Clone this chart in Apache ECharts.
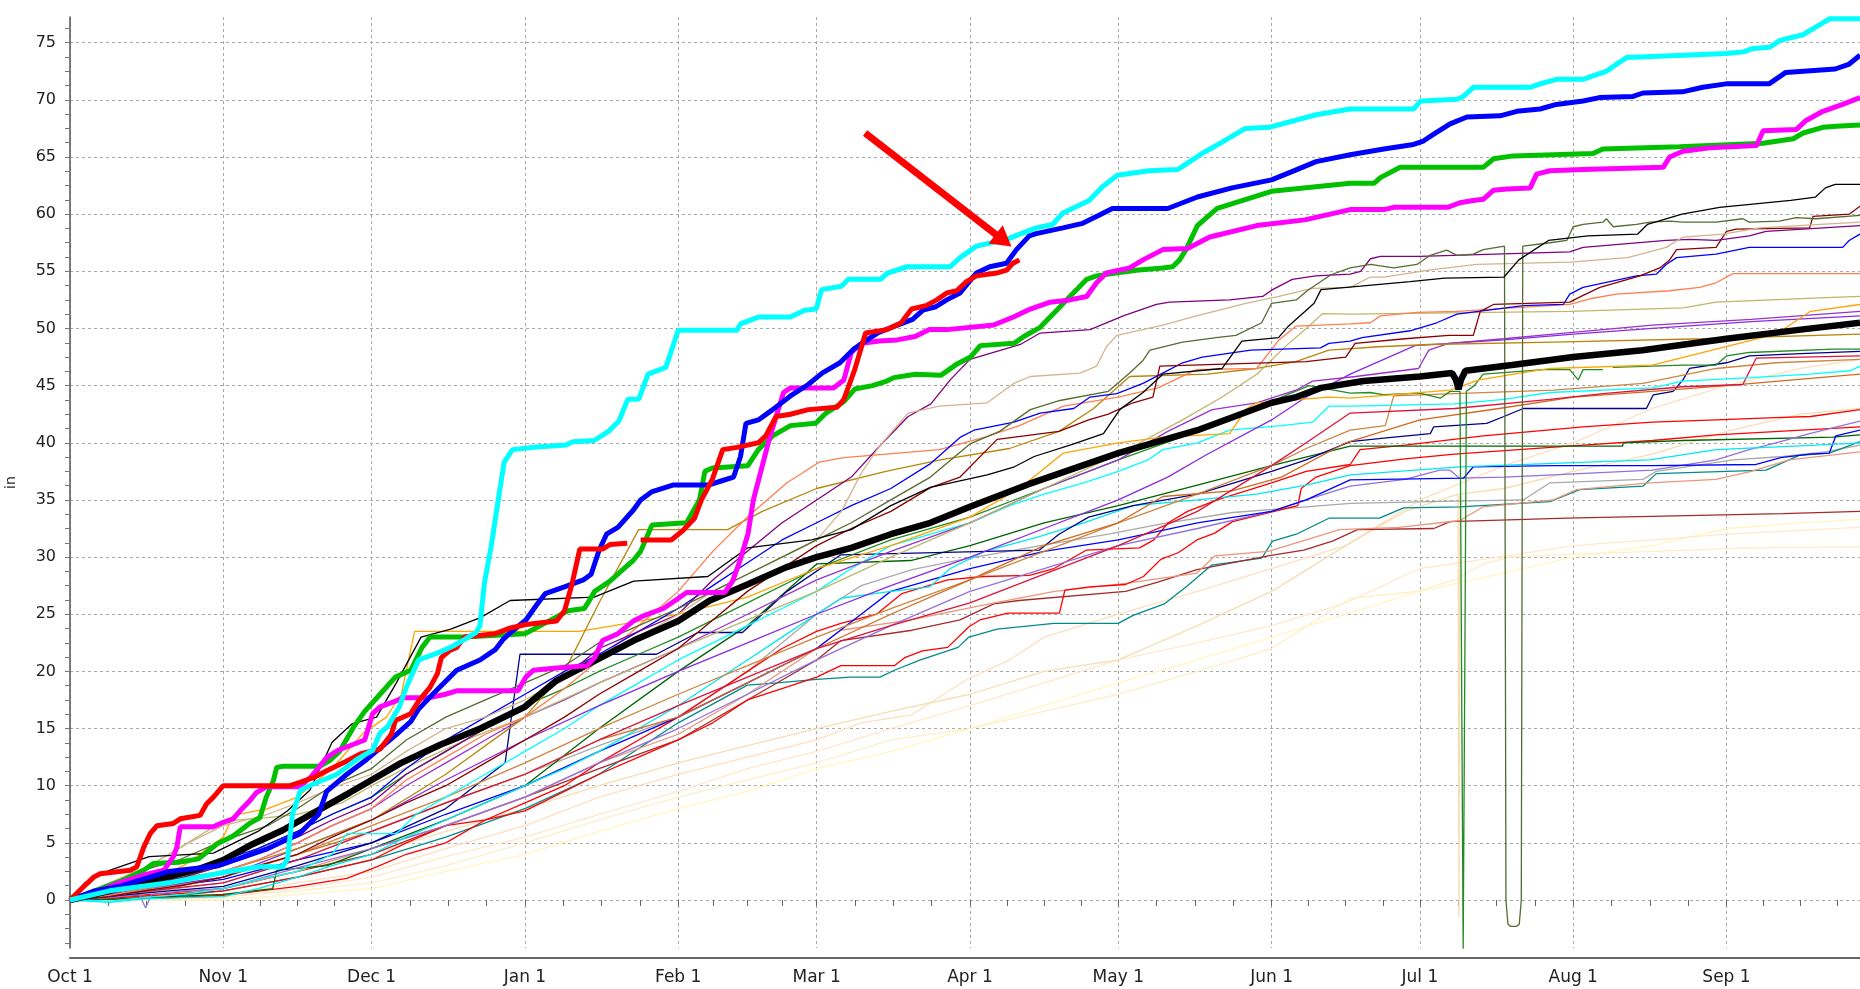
<!DOCTYPE html>
<html><head><meta charset="utf-8">
<script src="https://cdn.jsdelivr.net/npm/echarts@6/dist/echarts.min.js"></script>
<style>html,body{margin:0;padding:0;background:#fff}#c{width:1860px;height:989px}</style>
</head><body><div id="c"></div>
<script>
// ---- axis categories / tick labels ----
const monthLabels = ['Oct 1','Nov 1','Dec 1','Jan 1','Feb 1','Mar 1','Apr 1','May 1','Jun 1','Jul 1','Aug 1','Sep 1'];
const monthStartDays = [0,31,61,92,123,151,182,212,243,273,304,335];
const monthLengths = [31,30,31,31,28,31,30,31,30,31,31,30];
const yLabelValues = [0,5,10,15,20,25,30,35,40,45,50,55,60,65,70,75];

// ---- highlighted series ([day of water year, inches]) ----
const cyanThick = [[0,0],[8,0.8],[20,1.5],[31,2.4],[38,2.9],[43,2.9],[44,3.6],[45,7.5],[46.6,9.6],[49,10.1],[54,11],[58,12.3],[61.2,13.1],[62.7,14.6],[64.3,15.2],[66.6,16.9],[68.1,18.7],[70.5,21],[74.3,21.6],[77.4,22.2],[79.8,22.8],[82.1,23.4],[82.9,24],[83.8,27.7],[85.2,31],[86.6,35],[87.8,38.3],[89.5,39.4],[93.8,39.6],[100.3,39.8],[101.7,40.1],[106,40.2],[108.9,41],[111,41.9],[112.8,43.8],[115,43.8],[116.9,46],[120.5,46.6],[123,49.85],[134.9,49.85],[135.6,50.4],[139.2,51],[145.7,51],[148.6,51.6],[150.9,51.7],[152,53.4],[156,53.7],[157.4,54.3],[163.9,54.3],[165.3,54.85],[169.3,55.4],[178,55.4],[180,56.2],[183.3,57.2],[189.4,57.8],[195.4,58.8],[198.7,59.1],[200.8,60.1],[206.1,61.2],[208.8,62.4],[211.8,63.4],[218.2,63.8],[224,63.9],[229.3,65.4],[233,66.3],[237.7,67.5],[242.5,67.6],[252,68.7],[258.9,69.2],[271.7,69.2],[273.1,69.9],[280.5,70.05],[281.8,70.3],[283.8,71.1],[295.3,71.1],[297.3,71.4],[300.6,71.8],[306,71.8],[308.7,72.2],[310.7,72.5],[312.7,73.1],[314.8,73.7],[326.3,73.9],[335,74.05],[338.4,74.2],[340.4,74.5],[343.7,74.6],[345.8,75.2],[350.5,75.7],[353.2,76.4],[355.9,77.1],[362,77.1]];
const blueThick = [[0,0],[5,0.8],[10,1.2],[20,2.5],[30,3],[40,4.5],[46.4,5.8],[50.3,7.5],[51.9,9.5],[56,11],[60,12.3],[65.8,14.4],[68.9,15.6],[70.5,16.7],[73.6,18.1],[78.2,20.1],[79.8,20.4],[82.9,21],[86,21.9],[87.6,22.8],[89.1,23.4],[92.2,24.5],[94.5,25.9],[96.1,26.8],[100,27.4],[103.8,28],[105.4,28.5],[107,30.6],[108.5,32],[110.8,32.6],[113.9,34.1],[115.4,35],[117.6,35.7],[121.9,36.3],[129.1,36.3],[132,36.7],[134.2,37],[135.6,38.8],[136.7,41.7],[139.2,42],[142.1,42.9],[145.7,44.1],[149.3,45.1],[152.1,46.1],[155.7,47],[158.5,48.2],[161.2,49],[163.3,49.6],[166.8,50.2],[170.4,50.8],[172.5,51.6],[175.1,51.9],[177.3,52.5],[180,53.1],[183.3,54.85],[186,55.4],[189.4,55.7],[191.4,56.9],[194,58.1],[195.4,58.3],[200.8,58.8],[204.8,59.2],[208.1,59.9],[210.8,60.5],[222,60.5],[228,61.5],[235,62.3],[243,63],[247,63.7],[252,64.6],[258.9,65.2],[265.7,65.7],[271.7,66.1],[273.7,66.4],[275.8,67],[279.1,67.9],[282.5,68.5],[289.2,68.6],[292.6,69],[297.3,69.2],[300.6,69.6],[306,69.9],[309.3,70.2],[316.1,70.3],[318.1,70.6],[326.1,70.7],[330.2,71.1],[334.9,71.4],[343.6,71.4],[347,72.4],[357,72.7],[359.7,73.1],[362,73.9]];
const redThick = [[0,0],[2.1,0.9],[4.8,2.0],[6.1,2.3],[12.2,2.6],[13.5,2.9],[14.9,4.6],[16.2,5.8],[17.6,6.5],[20.9,6.7],[22.3,7.1],[26.3,7.4],[27.6,8.4],[29,9.0],[31,10],[44.5,10],[46.5,10.3],[49.2,10.7],[51.9,11.3],[55.7,12.1],[58.8,12.8],[62.7,13.2],[65,14.5],[65.8,15.7],[68.9,16.3],[70.5,17.4],[72.8,18.6],[74.3,19.8],[75.1,21.2],[76.7,21.8],[78.2,22.1],[79.8,23],[86,23.3],[89.1,23.8],[92.2,24.1],[98.4,24.4],[100,25.3],[101.5,27.6],[103.1,30.7],[107.7,30.7],[109.2,31.1],[112.7,31.2],[113.8,'-'],[115.4,31.5],[121.6,31.5],[123.9,32.3],[126.3,33.4],[127.7,35],[129.9,36.8],[132,39.4],[134.9,39.6],[139.2,40],[140.7,40.6],[142.8,42.3],[145.7,42.5],[149.3,42.9],[155.1,43.1],[156.5,43.8],[158.7,46.4],[160.9,49.6],[165.2,49.9],[168.1,50.5],[170.2,51.7],[173.1,52],[175.3,52.5],[177.3,53.1],[179.3,53.3],[181.3,54.1],[183.3,54.6],[187.4,54.85],[189.4,55.1],[190.7,55.7],[192,56]];
const magentaThick = [[0,0],[5,0.6],[10,1.5],[15,2.2],[19,2.6],[20.9,3.8],[21.6,4.6],[22.3,6.4],[29,6.4],[31,6.8],[33,7.1],[34.4,7.8],[36.4,8.7],[37.7,9.4],[39.7,9.9],[46.4,9.9],[48.8,10.8],[52,12.5],[54.2,13.1],[59.6,14],[61.2,16.3],[62.7,16.9],[65.8,17.4],[67.4,17.7],[72.8,17.7],[75.9,18],[78.2,18.3],[90.6,18.3],[92.2,19.5],[93.7,20.1],[98.4,20.3],[104.6,20.5],[106.1,21.2],[107.7,22.7],[110.8,23.3],[113.9,24.4],[116.2,24.9],[120,25.5],[122.4,26.2],[124.7,26.9],[132.4,26.9],[134,27.9],[135.5,29.7],[137.1,32],[138.2,35],[141.4,40.3],[144.3,44.4],[145.7,44.8],[154.4,44.8],[156.5,45.5],[158,47.9],[160.1,48.7],[163.7,48.9],[167.3,49],[170.9,49.3],[173.8,49.9],[177.4,49.9],[186.8,50.3],[190.8,51],[194.2,51.7],[198.2,52.3],[202.2,52.5],[205.6,52.8],[207.6,54],[209.6,54.85],[214.3,55.3],[217,56],[221,56.9],[226,57],[230.5,58],[240,59],[249.7,59.5],[258.9,60.4],[265.7,60.4],[267.7,60.6],[278.6,60.6],[281.1,61],[283.8,61.2],[285.8,61.3],[287.9,62.1],[290.6,62.2],[295.3,62.3],[296.6,63.5],[299.3,63.8],[306,63.9],[322.2,64.1],[323.5,65],[326.2,65.5],[331.6,65.8],[341.1,66],[342.4,67.3],[349.1,67.4],[351.1,68.2],[354.5,69],[358.5,69.6],[362,70.2]];
const greenThick = [[0,0],[5,0.8],[10,1.6],[14.9,2.6],[16.9,3.2],[22,3.3],[26,3.6],[29.7,4.9],[33,5.6],[36.3,6.7],[38.4,7.2],[39.7,9],[41.1,10.4],[41.8,11.6],[43.1,11.7],[50.5,11.7],[52.5,12.2],[54.5,13],[57.3,15.1],[59.6,16.5],[62.7,18],[65.8,19.5],[68.9,20.1],[71.2,22.1],[72.8,23],[79.8,23],[92,23.3],[96,24.2],[100.7,25.3],[104,25.5],[104.6,25.9],[106.1,27],[109.2,27.9],[112.3,29.1],[113.9,29.7],[115.4,30.5],[117.7,32.8],[124.7,33],[127.3,35],[128.4,37.5],[129.9,37.8],[137.1,38],[139.2,39.4],[142.1,40.6],[145.7,41.5],[150.8,41.7],[152.9,42.6],[156.5,43.6],[158.7,44.7],[162.3,45],[165.2,45.4],[166.6,45.7],[171,46],[176.1,45.9],[179.4,46.9],[182.1,47.5],[184.1,48.5],[190.9,48.7],[192.9,49.3],[196.2,50.1],[198.9,51.3],[200.9,52.2],[203.6,53.4],[205.6,54.3],[207.6,54.6],[211.6,54.85],[215.6,55.1],[221,55.3],[223,55.4],[224.4,56],[225.7,56.9],[228,59],[232,60.5],[243,62],[258.9,62.7],[263.7,62.7],[265,63.2],[269,64.1],[285.8,64.1],[287.9,64.85],[291.9,65.1],[308,65.3],[310,65.7],[325.5,65.9],[342.4,66.2],[348.5,66.6],[350.5,67.1],[354.5,67.6],[357.2,67.7],[362,67.8]];
const blackAverage = [[0,0],[6,0.6],[12.8,1.3],[19.6,2.0],[26.3,2.75],[31,3.5],[37,4.9],[43,6.1],[50,7.8],[56.6,9.4],[61,10.5],[67,12],[75,13.6],[83,15],[92,16.9],[98.4,19.2],[106,20.9],[114,22.7],[123,24.4],[129.4,26.2],[137,27.6],[144.8,29.1],[151,30],[158,30.8],[166,32],[174,33],[182,34.4],[194,36.4],[212,39.1],[228,41.1],[243,43.5],[248,44],[253,44.8],[261.6,45.4],[273,45.8],[279.5,46.1],[280.3,45.5],[280.8,44.7],[281.3,45.5],[282.2,46.3],[291.6,46.8],[304,47.5],[318,48.1],[335,49.1],[350,49.9],[362,50.5]];

// ---- thin series ----
const thinBlack = [[0,0],[3,1.5],[8,2.6],[16,3.8],[29,4.1],[38,6],[44,7.8],[48.5,9.6],[53,13.8],[57,15.4],[62,16],[66,19],[71,23],[77,23.7],[83,24.7],[89,26.2],[106,26.5],[114,27.9],[129,28.3],[137,30.8],[150,31.5],[158,32.4],[166,34.5],[174,36.1],[185.5,37.2],[191,37.9],[195,38.8],[203,39.9],[209,40.8],[212.3,42.9],[217,44.4],[221,46],[233,46.5],[237,48.9],[244.4,49.2],[246.4,50.2],[251.6,52.2],[253,53.4],[261,53.7],[271,54.1],[278,54.4],[290,54.5],[293,56],[299,57.7],[307,58.1],[317,58.25],[319,59.1],[326,60],[333.6,60.6],[348,61.2],[353,61.5],[355,62.3],[357,62.6],[362,62.6]];
const thinOlive = [[0,0],[6,1],[14,2.5],[22,3.5],[31,5.2],[40,6.5],[46,8],[53,10],[61,11.5],[68,14],[76,16],[84,17.5],[92,19],[100,20.5],[107,22.5],[115,24],[123,25.5],[130,27],[137,28.5],[144,30],[151,31.5],[158,33],[166,35],[174,37],[182,39.9],[188,41],[194.2,42.9],[200.2,43.7],[210,44.5],[214.3,46.1],[217,47.2],[218.4,48.1],[225,48.8],[231.8,49.2],[235.8,49.4],[241,50.5],[243,52.2],[248,52.5],[250.2,53.3],[255,54.7],[258.9,55.3],[263,55.6],[267.7,55.3],[272.4,55.6],[275.1,56.4],[278.4,56.85],[280.5,56.4],[283.8,56.5],[285.8,56.9],[290.1,57.2],[290.4,0],[290.8,-2.1],[291.3,-2.3],[292.6,-2.3],[293.1,-2.1],[293.5,0],[293.8,57.2],[299.3,57.5],[302.7,57.7],[304,58.9],[306,59.1],[310,59.3],[310.7,59.6],[312.1,58.9],[316.8,59.1],[319.5,59.3],[323.5,59.4],[326.2,59.3],[332.9,59.3],[338.3,59.6],[339.6,59.3],[345.7,59.4],[349.1,59.7],[353.1,59.6],[362,59.9]];
const thinTan = [[0,0],[8,1.5],[16,3],[24,5],[31,6.5],[40,7.5],[46,8.5],[53,9.8],[61,11],[68,13],[76,15],[84,16],[92,17.5],[100,19.5],[107,21],[115,23],[123,25],[130,27],[137,28.5],[144,30],[151,31.5],[156,34],[160.1,37.4],[163.7,39.7],[169.5,42.6],[175.8,43.2],[185.5,43.5],[190.9,45.2],[194.2,45.8],[204.3,46.1],[207.6,46.7],[209.6,48.4],[211.7,49.4],[221,50.3],[227.8,51.1],[237.8,52.2],[244.5,52.8],[251.2,53.5],[258.9,53.6],[263,54.5],[265.7,54.5],[274.8,55.1],[284.5,55.6],[303.3,55.8],[315,56.2],[322.8,57.1],[326.2,58],[334.3,58.25],[341.7,58.8],[362,59.3]];
const thinPurple = [[0,0],[8,0.6],[15,1.2],[23,2],[31,3],[38,4.2],[46,5.5],[53,7],[61,8.5],[68,11],[76,13],[84,15],[92,17],[100,19.5],[107,22],[115,23.5],[123,25],[130,28],[137,30.5],[144,33],[151,35],[158,37],[163.7,39.7],[169.5,42.3],[174.1,43.4],[178,45.5],[182,47.3],[192.2,48.6],[196.2,49.6],[206.3,49.9],[213,51.1],[219.7,52.1],[222.4,52.3],[234.5,52.5],[241.2,52.8],[243.2,53.4],[247.2,54.3],[251.9,54.6],[258.9,54.75],[261,55],[263,56.1],[265,56.3],[273,56.3],[303.3,56.7],[306,57.1],[322.8,57.7],[327.5,57.8],[332.9,57.7],[339.6,58.1],[343,58.5],[362,59]];
const thinDarkRed = [[0,0],[8,0.3],[15,0.8],[23,1.3],[31,2],[38,3],[46,4],[53,5.5],[61,7],[68,8.5],[76,10],[84,12],[92,14],[100,16],[107,18],[115,20],[123,22],[130,24.5],[137,27],[144,29],[151,31],[158,32.5],[166,34],[174.1,36.1],[180,37],[187.5,40.3],[193,40.6],[200,41],[206,42],[210,42.5],[215,43.5],[219,44],[220.4,46.7],[235,46.9],[250,47.1],[258,47.5],[259.9,48.7],[270,49.1],[278.8,49.4],[283.8,49.4],[285.2,51.5],[287.9,52.1],[303.3,52.3],[306,52.9],[309.4,53.6],[317.5,54.6],[321.5,55.3],[323.5,56],[324.9,56.9],[332.9,57.1],[335,58.5],[337,58.7],[351.8,58.8],[352.5,59.8],[359.8,60],[362,60.7]];
const thinBlue = [[0,0],[8,0.8],[15,1.5],[23,2.5],[31,3.5],[38,4.5],[46,6],[53,7.5],[61,9],[68,11.5],[76,14],[84,16],[92,18],[100,20],[107,21.5],[115,23.5],[123,25.5],[130,27.5],[137,29.5],[144,31.5],[151,33],[158,34.5],[166,36],[174.1,38.2],[180.1,40.5],[182.8,41.1],[190.9,41.8],[196.2,42.6],[203,43],[206.3,44],[211.7,44.3],[217,45.2],[221,46.1],[225,47],[229,47.5],[238.8,48.1],[252.9,48.3],[254.6,48.7],[258.9,48.9],[261.3,49.2],[271,49.8],[276.4,50.5],[280.5,51.25],[293.9,52],[302,52.1],[303.3,53],[306,53.6],[316.8,54.6],[320.8,54.75],[322.8,55.6],[324.9,56.2],[332.9,56.5],[339.6,57.1],[358.5,57.1],[359.8,57.7],[362,58.25]];
const thinCoral = [[0,0],[8,0.4],[15,1],[23,1.8],[31,2.5],[38,3.5],[46,5],[53,6.5],[61,8],[68,10.5],[76,12.5],[84,14.5],[92,16],[100,18.5],[107,21],[115,24],[123,27],[130,30.5],[137,33.5],[145,36.5],[151.5,38.3],[156.5,38.7],[165,39],[175.8,39.4],[185,40.5],[192,41.5],[200.9,43.2],[212,44],[220,44.8],[227.8,46.4],[240,46.5],[244.5,49],[247.9,50.2],[258.9,50.4],[263,50.5],[265,51.1],[272.4,51.4],[280.5,51.5],[303.3,52.1],[307.4,52.6],[312.7,53],[323.5,53.3],[329.6,53.6],[332.9,54],[336.3,54.8],[362,54.8]];
const thinKhaki = [[0,0],[10,1.5],[20,4],[31,6.9],[40,7.2],[46,7.5],[55,8.5],[61,10],[70,12],[80,14],[92,16],[107,19],[123,22],[137,24.5],[151,27],[166,30],[182,33],[197,36],[212,39],[225,42],[233,44],[240,46],[246,48.5],[250,50],[253.3,51.3],[258.9,51.25],[303.3,51.5],[326.2,51.8],[332.9,52.3],[355.2,52.7],[362,52.8]];
const thinOrange = [[0,0],[8,0.6],[15,1.5],[23,3],[31,5.5],[33,7.4],[40,8],[46,9],[53,11.5],[59.3,14.6],[64,16],[67,18],[69.7,23.5],[103,23.5],[110,24],[123,25],[137,26.5],[151,29],[166,31],[182,33.5],[192,36],[200.9,39.1],[212,40],[221,40.5],[234.5,40.8],[238,43],[240,43.5],[254.6,44],[258.9,43.9],[279.1,44.6],[285,45.5],[292,46],[299.3,46.5],[320,46.8],[332.9,48.2],[345,49.5],[352,51.5],[362,52.1]];
const thinOrchid = [[0,0],[8,0.5],[15,1],[23,1.8],[31,2.5],[38,3.5],[46,5],[53,6.5],[61,8],[68,10],[76,12],[84,14],[92,16],[100,17.5],[107,19],[115,20.5],[123,22],[137,25],[151,28],[166,30.5],[182,33],[197,36],[212,38.5],[222,41],[231,42.9],[240,43.5],[247.9,44.6],[251.3,45.4],[260,45.8],[272.7,46.5],[274.8,48.1],[278.8,48.7],[290,49.1],[300,49.5],[320,50.3],[340,50.8],[362,51.5]];
const thinBlueViolet = [[0,0],[10,0.8],[20,1.3],[31,2],[46,4.5],[61,7],[76,10.5],[92,14],[107,17],[123,20],[137,22.5],[151,25],[166,27.5],[182,30],[197,32.5],[212,35],[222,37],[230,39],[243,42],[250,44],[258.9,46],[265.7,47.3],[272,48.5],[290,49],[304,49.5],[320,50],[340,50.6],[362,51.1]];
const thinForest = [[0,0],[8,0.4],[15,1],[23,2],[31,3],[38,4.5],[46,6],[53,7.5],[61,9],[68,11],[76,13],[84,15],[92,17],[100,18.5],[107,20],[115,21.5],[123,23],[137,26],[151,29],[166,31.5],[182,33.5],[197,36],[212,38.5],[228,41],[240,43],[245,44],[250.6,45],[258.9,44.35],[263,44.4],[265.7,44.2],[273,44.35],[277.1,43.9],[279.1,44.5],[281.1,44.5],[281.75,-4.3],[282.4,44.5],[284,45],[285.8,46],[298,46.4],[303.3,46.4],[305,45.5],[306,46.4],[310,46.4],[311,'-'],[312,46.6],[326.2,46.8],[332.9,46.8],[335,47.6],[339.6,47.9],[356.5,48.2],[362,48.2]];
const thinWheat = [[0,0],[15,0.3],[31,1],[46,2.5],[61,4],[76,6],[92,8],[107,10],[123,12],[137,13.5],[151,15],[166,16.5],[182,18],[197,20],[212,21],[228,24],[243,27],[258,31],[270,34],[280.7,35.5],[280.9,-1.5],[281.1,35.5],[290,36],[304,37.5],[320,39],[335,41],[350,42.5],[362,43]];
const thinCyan = [[0,0],[8,-0.1],[15,0.2],[23,0.5],[31,1],[38,1.8],[46,2.5],[53,4],[56,5.8],[66,5.8],[70,7.5],[76,9],[84,11],[92,13],[100,15],[107,17],[115,19],[123,21],[130,22.5],[137,24],[144,25.5],[151,27],[158,29],[166,31],[174,32],[182,33],[190,34.5],[197,35.5],[205,36.5],[212,37.5],[218,38.5],[221,39.4],[228,40],[234.5,41.1],[245,41.5],[251.3,41.8],[254.6,43.2],[258.9,43.2],[280,43.4],[290,43.8],[299.3,44.4],[320,44.8],[326.2,45.4],[340,45.7],[351.8,46],[360,46.3],[362,46.7]];
const thinCrimson = [[0,0],[10,0.5],[20,1],[31,1.5],[46,3.5],[61,6],[76,8.5],[92,11],[107,14],[123,17],[137,19.5],[151,22],[166,24],[182,26],[197,28.5],[212,31],[228,34],[243,38],[250,40],[258.9,42.6],[280,43],[299.3,43.8],[310,44.3],[326.2,44.9],[338.3,45.1],[341,47.4],[362,47.6]];
const thinPeru = [[0,0],[10,0.6],[20,1.2],[31,2],[46,4],[61,6.5],[76,9],[92,12],[107,15],[123,18],[137,20.5],[151,23],[166,25.5],[182,28],[197,30.5],[212,33],[228,35.5],[243,38],[250,39.5],[258.9,41.1],[266,41.5],[267.7,44.1],[280,44.3],[300,44.6],[318.1,45.2],[325,45.8],[332.9,46.5],[345,47],[362,47.3]];
const thinNavy = [[0,0],[10,0.4],[20,0.8],[31,1.2],[46,3],[61,5],[76,8],[88,12],[91,21.5],[118.6,21.5],[127,23.4],[136,23.4],[145,27],[155.9,30.2],[196,30.6],[200,32],[206,33.5],[215,34.5],[228,35.5],[243,37.5],[250,38.5],[258.9,40.1],[265.7,40.4],[275.1,40.8],[275.8,41.4],[286.5,41.7],[290,42.3],[293.9,43],[318.8,43],[320.2,44.2],[324.2,44.5],[326.2,45.5],[327.5,46.5],[335,47],[339.6,47.6],[350,47.8],[362,48]];
const thinRedA = [[0,0],[10,0.1],[20,0.2],[31,0.4],[46,1.2],[56,1.9],[62,2.9],[68,4],[76,5],[84,7],[92,8.5],[100,10],[107,12],[115,14],[123,16],[130,18],[137,20],[144,22],[151,23.5],[155.9,24.2],[163.1,25],[168.2,26.8],[177.5,28],[184.7,28.3],[194,28.4],[199,29],[205.5,30.6],[216.3,30.8],[219.2,31.5],[222.1,33],[226,34],[232,35],[243,36.5],[250,37.5],[258.9,38.1],[260.9,39.4],[270,39.8],[285.8,40.6],[306,41.4],[320,41.8],[332.9,42],[345,42.2],[352,42.3],[362,42.9]];
const thinRedB = [[0,0],[10,0.2],[20,0.5],[31,0.8],[46,2],[61,3.5],[68,5],[76,6.5],[84,7],[92,7.8],[100,9.5],[107,11],[115,12.5],[123,14],[130,15.5],[137,17.5],[144,18.5],[151,19.5],[155.9,20.5],[166.7,20.5],[168.8,21.2],[172.4,21.8],[177.5,22.1],[181.8,23.9],[184,24.5],[189.7,25.1],[200.1,25.1],[201.2,27.1],[206.2,27.4],[213.5,27.6],[217.1,28.3],[220.6,29.8],[224.2,30.4],[227.9,31.5],[231.5,32.1],[235.1,33.1],[242.5,33.9],[248.3,34.5],[249,36],[252,37],[258.9,38],[270,38.6],[280,39],[306,39.8],[320,40.2],[332.9,40.7],[362,41.4]];
const thinSalmon = [[0,0],[10,0.2],[20,0.5],[31,1],[46,2.5],[61,4.5],[76,6.5],[92,9],[107,12],[123,14.5],[137,18],[151,22],[155.9,23.6],[170,24.5],[184.7,25.8],[188.3,26.1],[199.1,27],[213.5,27.7],[227.9,28.6],[231.5,30.1],[242.3,30.5],[250,31.5],[256.7,32.4],[268.8,32.6],[281.1,33.2],[285.8,34.4],[300,35],[304.7,35.9],[319.5,36.5],[332.9,36.8],[340,37.5],[347.7,38.5],[362,39.2]];
const thinBrown = [[0,0],[10,0.3],[20,0.6],[31,1],[46,2.5],[61,4],[76,6.5],[92,9],[107,11.5],[123,14],[137,17.5],[151,21],[155.9,22.7],[170.3,23.6],[180,24.5],[186.8,25.9],[191.9,26.2],[213.5,27],[220,27.8],[227.9,28.9],[242.3,30.1],[249.5,30.6],[255.3,31.4],[260.4,32.4],[275.8,32.5],[279.1,33.1],[302.7,33.4],[346.4,33.8],[362,34]];
const thinTeal = [[0,0],[10,0.1],[20,0.3],[31,0.8],[46,2],[61,3.5],[76,5.5],[92,8],[107,11],[123,15.5],[137,18.8],[143,19],[151,19.3],[157.9,19.5],[163.8,19.5],[166.7,20.1],[172,21],[179.6,22.1],[181.8,23],[187.5,23.7],[199,24.2],[212,24.2],[215,24.9],[221.3,25.9],[226,27.5],[230.9,29.3],[241,29.9],[243.2,31.4],[248,32],[254.6,33.4],[264.8,33.4],[269.7,34.3],[281.1,34.4],[299.3,34.85],[305.3,35.9],[318.1,36.2],[320.8,37.3],[343,37.6],[349.7,38.9],[355.8,39.1],[362,40.1]];
const thinGray = [[0,0],[10,0.4],[20,0.9],[31,1.5],[46,3.5],[61,6],[76,8.5],[92,11],[107,13.5],[123,16],[137,20],[151,25],[160,27.5],[170.3,28.9],[180.5,29.8],[196.3,31],[210,32],[220.8,32.9],[235.1,33.9],[250,34.4],[258.9,34.7],[280,34.9],[293.9,35],[299.3,36.5],[318.1,36.8],[320.8,37.5],[336.3,38.5],[346.4,38.8],[355,39.2],[362,39.8]];
const thinCyan2 = [[0,0],[8,-0.2],[15,0.1],[23,0.2],[31,0.3],[38,1],[46,2],[53,3],[61,4],[68,5.5],[76,7],[84,8.5],[92,10],[100,11.5],[107,13],[115,15],[123,17],[130,19],[137,21],[144,23],[151,25],[155.9,26.4],[166,27],[173.9,27.4],[178,29],[185,30.5],[196,31.8],[205,33],[215,34.5],[228,35],[240,35.5],[250,36.3],[258.9,37.2],[281.1,37.9],[300,38.2],[319.5,38.5],[332.9,39.4],[353.1,39.8],[362,40]];
const thinBlue2 = [[0,0],[10,0.6],[20,1.2],[31,1.8],[46,3.5],[61,5],[76,7.5],[92,10],[107,13],[123,16],[137,19],[151,22],[160,25],[166,27],[182,29],[197,30.5],[212,31.5],[228,33],[243,34],[250,35],[258.9,36.75],[281.8,36.9],[283.8,37.9],[300,38],[320,38],[341,38.1],[346,38.7],[351.8,39],[355.8,39.1],[357.1,40.6],[362,41.1]];
const thinMedPurple = [[0,0],[8,0.2],[14,0.5],[15.3,-0.7],[16.5,0.5],[23,0.8],[31,1],[46,2.8],[61,4.5],[76,6.5],[92,9],[107,12],[123,15],[137,18],[151,21],[166,24],[182,27],[197,29],[212,31],[228,32.5],[243,34],[250,35],[258.9,36.2],[270,36.8],[277,37.6],[279.1,37.6],[281,36.9],[290,37],[300,37.2],[320,37.6],[332.9,38.5],[339.6,39.4],[345,40],[351.8,40.8],[362,41.9]];
const thinDarkGreen = [[0,0],[10,0.1],[20,0.3],[31,0.5],[41,1],[41.8,2.6],[52,3],[61,4.5],[76,7],[92,10],[107,15],[123,20],[137,24],[151,29.4],[170,29.7],[182,31],[197,33],[212,34.5],[228,36.3],[243,38],[258.9,39.7],[314,39.7],[314.1,40],[326.2,40.2],[356.5,40.5],[362,40.7]];
const thinCornsilk = [[0,0],[15,0],[31,0.3],[46,0.8],[61,1.5],[76,3],[92,5],[107,7],[123,9],[137,10.5],[151,12],[166,14],[182,15],[197,16.5],[212,18],[228,20],[243,22],[258.9,26.4],[272.4,27],[280,28],[285.8,29.4],[291.2,30],[300,30.2],[320,30.5],[340,30.8],[362,30.9]];
const thinBisque = [[0,0],[15,0.1],[31,0.5],[46,1.5],[61,2.5],[76,4.5],[92,6.5],[107,9],[123,11],[137,12.5],[151,14],[160,15.5],[170.3,16.2],[181,19.2],[190,21],[197,23],[212,25],[228,27],[243,29],[258,31],[273,35],[290,38],[304,40],[320,43],[335,45],[350,46.5],[362,47.3]];
const thinPapaya = [[0,0],[15,0],[31,0.2],[46,1],[61,2],[76,3.8],[92,5.5],[107,7.5],[123,9.5],[137,11.5],[151,13],[166,15],[182,17],[197,19],[212,21],[228,22.5],[243,24],[258,26],[273,29],[289,30],[304,31],[320,31.5],[335,32],[362,32.6]];
const thinLemon = [[0,0],[31,0],[46,0.5],[61,1],[76,2.5],[92,4],[107,6],[123,8],[137,9.5],[151,11.5],[166,13],[182,15],[197,17],[212,19],[228,21],[243,23],[258,25],[273,27],[289,28.5],[304,30],[320,31],[335,32.5],[350,33],[362,33.3]];
const thinGoldenrod = [[0,0],[10,1],[20,1.8],[31,2.5],[46,4.5],[61,7],[76,11],[92,16],[100,20],[107,26],[115,32.4],[133,32.4],[140,34],[151,36],[165,37.5],[176,38.5],[190,39.5],[200,41],[207,43],[214.3,45.8],[230,46],[240,46.5],[247.9,47.1],[254.6,48.1],[264.7,48.4],[274.8,48.6],[300,48.8],[330,49.1],[362,49.5]];
const thinChocolate = [[0,0],[10,0.5],[20,1],[31,2],[46,4],[61,6],[76,8.5],[92,11],[107,14],[123,16],[137,19],[151,22],[166,25],[182,28],[197,31],[212,33],[221,35.3],[235,35.8],[245,37],[258,40],[273,42],[289,43],[304,44],[320,44.5],[335,45],[362,46]];

// annotation arrow (data coordinates: tail, head centre)
const arrowTail = [160.8, 67.1];
const arrowHead = [188.8, 57.7];

const thinList = [
  ['thinLemon', thinLemon, '#fff6c0'], ['thinPapaya', thinPapaya, '#ffe8cc'], ['thinCornsilk', thinCornsilk, '#fbf0c8'],
  ['thinBisque', thinBisque, '#ffdfc0'], ['thinWheat', thinWheat, '#f5deb3'],
  ['thinGray', thinGray, '#a9a9a9'], ['thinTeal', thinTeal, '#008b8b'], ['thinBrown', thinBrown, '#a52a2a'],
  ['thinSalmon', thinSalmon, '#e9967a'], ['thinRedB', thinRedB, '#ff0000'], ['thinRedA', thinRedA, '#ff0000'],
  ['thinDarkGreen', thinDarkGreen, '#006400'], ['thinMedPurple', thinMedPurple, '#9370db'], ['thinBlue2', thinBlue2, '#0000ff'],
  ['thinCyan2', thinCyan2, '#00e8f0'], ['thinNavy', thinNavy, '#00008b'], ['thinPeru', thinPeru, '#cd853f'],
  ['thinChocolate', thinChocolate, '#d2691e'], ['thinCrimson', thinCrimson, '#dc143c'], ['thinCyan', thinCyan, '#00ffff'],
  ['thinForest', thinForest, '#228b22'], ['thinBlueViolet', thinBlueViolet, '#8a2be2'], ['thinOrchid', thinOrchid, '#9932cc'],
  ['thinOrange', thinOrange, '#ffa500'], ['thinGoldenrod', thinGoldenrod, '#b8860b'], ['thinKhaki', thinKhaki, '#bdb76b'],
  ['thinCoral', thinCoral, '#ff7f50'], ['thinBlue', thinBlue, '#0000ff'], ['thinDarkRed', thinDarkRed, '#8b0000'],
  ['thinPurple', thinPurple, '#800080'], ['thinTan', thinTan, '#d2b48c'], ['thinOlive', thinOlive, '#556b2f'],
  ['thinBlack', thinBlack, '#000000']
];
const thickList = [
  ['average', blackAverage, '#000000', 6.5],
  ['green', greenThick, '#00c000', 5],
  ['magenta', magentaThick, '#ff00ff', 5],
  ['blue', blueThick, '#0000ff', 5],
  ['red', redThick, '#ff0000', 5],
  ['cyan', cyanThick, '#00ffff', 5]
];

const xMinorTicks = [];
monthStartDays.forEach((s, i) => { for (let k = 0; k < 4; k++) xMinorTicks.push(s + monthLengths[i] * k / 4); });
const yMinorTicks = [];
for (let v = -3.75; v <= 76.3; v += 1.25) yMinorTicks.push(Math.round(v * 100) / 100);

const gridLine = { show: true, lineStyle: { color: '#a8a8a8', width: 1, type: [3, 3] } };
const series = [];
thinList.forEach(([name, data, color]) => series.push({
  name, type: 'line', data, showSymbol: false, symbol: 'none', connectNulls: false,
  lineStyle: { color, width: 1.3 }, itemStyle: { color }, emphasis: { disabled: true }, z: 2
}));
thickList.forEach(([name, data, color, w]) => series.push({
  name, type: 'line', data, showSymbol: false, symbol: 'none', connectNulls: false,
  lineStyle: { color, width: w }, itemStyle: { color }, emphasis: { disabled: true }, z: 3
}));
series.push({
  name: 'arrow', type: 'line', data: [], z: 5,
  markLine: {
    silent: true, animation: false, symbol: ['none', 'triangle'], symbolSize: [23, 20],
    lineStyle: { color: '#ff0000', width: 7, type: 'solid' }, itemStyle: { color: '#ff0000' },
    label: { show: false }, emphasis: { disabled: true },
    data: [[{ coord: arrowTail }, { coord: arrowHead }]]
  }
});

const chart = echarts.init(document.getElementById('c'), null, { renderer: 'canvas' });
chart.setOption({
  animation: false,
  backgroundColor: '#ffffff',
  grid: { left: 70, right: 0, top: 17, bottom: 41, containLabel: false, outerBoundsMode: 'none' },
  xAxis: [{
    type: 'value', min: 0, max: 362, position: 'bottom', offset: 10,
    axisLine: { show: true, onZero: false, lineStyle: { color: '#666', width: 2 } },
    axisTick: { show: false, customValues: monthStartDays },
    axisLabel: {
      customValues: monthStartDays, color: '#222', fontSize: 17, fontFamily: 'DejaVu Sans', margin: 11,
      formatter: v => { const i = monthStartDays.indexOf(Math.round(v)); return i >= 0 ? monthLabels[i] : ''; }
    },
    splitLine: gridLine
  }, {
    type: 'value', min: 0, max: 362, position: 'bottom', offset: 10,
    axisLine: { show: false }, axisLabel: { show: false }, splitLine: { show: false },
    axisTick: { show: true, customValues: xMinorTicks, length: 6, lineStyle: { color: '#666', width: 1 } }
  }],
  yAxis: [{
    type: 'value', min: -4.2, max: 77.25, position: 'left',
    name: 'in', nameLocation: 'middle', nameRotate: 90, nameGap: 52,
    nameTextStyle: { color: '#222', fontSize: 14, fontFamily: 'DejaVu Sans' },
    axisLine: { show: true, onZero: false, lineStyle: { color: '#555', width: 1.5 } },
    axisTick: { show: false, customValues: yLabelValues },
    axisLabel: { customValues: yLabelValues, color: '#222', fontSize: 16, fontFamily: 'DejaVu Sans', margin: 14 },
    splitLine: gridLine
  }, {
    type: 'value', min: -4.2, max: 77.25, position: 'left',
    axisLine: { show: false }, axisLabel: { show: false }, splitLine: { show: false },
    axisTick: { show: true, customValues: yMinorTicks, length: 5, lineStyle: { color: '#777', width: 1 } }
  }],
  series
});
</script>
</body></html>
